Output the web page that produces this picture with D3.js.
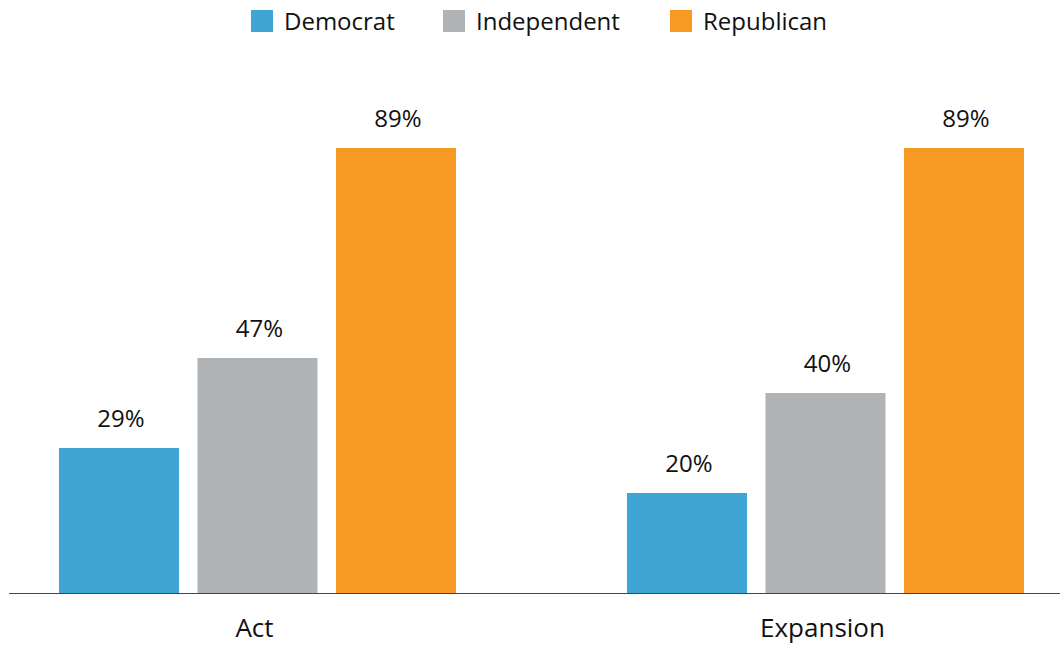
<!DOCTYPE html>
<html>
<head>
<meta charset="utf-8">
<script src="https://cdn.jsdelivr.net/npm/d3@7"></script>
<style>
  body { margin: 0; background: #fff; }
  text { font-family: "Open Sans", sans-serif; fill: #111; }
</style>
</head>
<body>
<div id="chart"></div>
<script>
var groups = ["Act", "Expansion"];
var parties = ["Democrat", "Independent", "Republican"];
var democrat = [29, 20];
var independent = [47, 40];
var republican = [89, 89];
var colors = ["#3ea5d5", "#b0b3b6", "#f79a23"];

var seriesVals = [democrat, independent, republican];
var data = groups.map(function (g, i) {
    return { group: g, values: parties.map(function (p, j) { return { key: p, value: seriesVals[j][i] }; }) };
});

var W = 1060, H = 646;
var baseline = 593;

var svg = d3.select("#chart").append("svg")
    .attr("width", W)
    .attr("height", H);

var x0 = d3.scaleBand()
    .domain(groups)
    .range([23, 1060])
    .paddingInner(0.3011)
    .paddingOuter(0.0634);

var x1 = d3.scaleBand()
    .domain(parties)
    .range([0, x0.bandwidth()])
    .paddingInner(0.1336)
    .paddingOuter(0);

var y = d3.scaleLinear()
    .domain([0, 100])
    .range([baseline, baseline - 500]);

var color = d3.scaleOrdinal().domain(parties).range(colors);

var group = svg.selectAll(".group")
    .data(data)
    .enter().append("g")
    .attr("class", "group")
    .attr("transform", function (d) { return "translate(" + x0(d.group) + ",0)"; });

group.selectAll("rect")
    .data(function (d) { return d.values; })
    .enter().append("rect")
    .attr("x", function (d) { return x1(d.key); })
    .attr("y", function (d) { return y(d.value); })
    .attr("width", x1.bandwidth())
    .attr("height", function (d) { return baseline - y(d.value); })
    .style("fill", function (d) { return color(d.key); });

group.selectAll(".val")
    .data(function (d) { return d.values; })
    .enter().append("text")
    .attr("class", "val")
    .attr("x", function (d) { return x1(d.key) + x1.bandwidth() / 2 + 2; })
    .attr("y", function (d) { return y(d.value) - 21; })
    .attr("text-anchor", "middle")
    .style("font-size", "24px")
    .text(function (d) { return d.value + "%"; });

// x axis
var xAxis = svg.append("g")
    .attr("transform", "translate(0," + baseline + ")")
    .call(d3.axisBottom(x0).tickSize(0).tickPadding(0));
xAxis.select(".domain").remove();
xAxis.append("line")
    .attr("x1", 9).attr("x2", W)
    .attr("y1", 0.5).attr("y2", 0.5)
    .attr("stroke", "#444").attr("stroke-width", 1.2);
xAxis.selectAll(".tick text")
    .attr("dy", null)
    .attr("y", 44)
    .attr("x", -3)
    .style("font-size", "26px")
    .style("font-family", "'Open Sans', sans-serif")
    .style("fill", "#111");

// legend
var legendX = [251, 443, 670];
var legend = svg.selectAll(".legend")
    .data(parties)
    .enter().append("g")
    .attr("class", "legend")
    .attr("transform", function (d, i) { return "translate(" + legendX[i] + ",10)"; });

legend.append("rect")
    .attr("width", 22)
    .attr("height", 22)
    .style("fill", color);

legend.append("text")
    .attr("x", 33)
    .attr("y", 20)
    .style("font-size", "24px")
    .text(function (d) { return d; });
</script>
</body>
</html>
